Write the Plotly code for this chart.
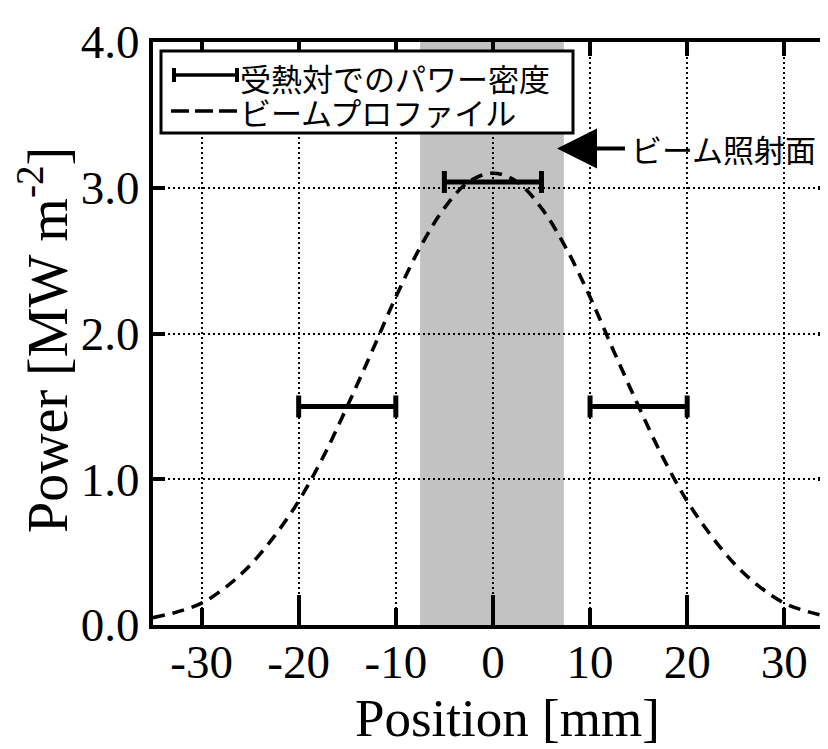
import plotly.graph_objects as go

# ---------------- data ----------------
profile_x = [-35, -32.5, -30, -27.5, -25, -22.5, -20, -17.5, -15, -12.5, -10, -7.5, -5, -2.5,
             0, 2.5, 5, 7.5, 10, 12.5, 15, 17.5, 20, 22.5, 25, 27.5, 30, 32.5, 35]
profile_y = [0.05, 0.09, 0.15, 0.26, 0.41, 0.61, 0.85, 1.15, 1.50, 1.87, 2.25, 2.59, 2.86, 3.04,
             3.10, 3.04, 2.86, 2.59, 2.25, 1.87, 1.50, 1.15, 0.85, 0.61, 0.41, 0.26, 0.15, 0.09, 0.05]

bar_center = [-15, 0, 15]
bar_power = [1.5, 3.04, 1.5]
bar_halfwidth = [5, 5, 5]

shade_x = [-7.5, 7.3]
arrow_point = [6.6, 3.27]

x_ticks = [-30, -20, -10, 0, 10, 20, 30]
x_major = [-20, 0, 20]
y_ticks = [0, 1, 2, 3, 4]
y_ticklabels = ["0.0", "1.0", "2.0", "3.0", "4.0"]

legend_labels = ["受熱対でのパワー密度", "ビームプロファイル"]
arrow_label = "ビーム照射面"
x_title = "Position [mm]"
y_title = "Power [MW m<sup>-2</sup>]"

x_range = [-35, 34.5]
y_range = [0, 4]

# ---------------- layout constants ----------------
OFF = 8                      # page body margin
W, H = 828 - OFF, 749 - OFF
L, R, T, B = 153 - OFF, 0, 42 - OFF, 749 - 625
PW, PH = W - L - R, H - T - B
SERIF = "Liberation Serif, Times New Roman, serif"
JP = "Noto Sans CJK JP"


def px(x):
    """page pixel x -> paper"""
    return (x - OFF - L) / PW


def py(y):
    """page pixel y -> paper"""
    return (H - B - (y - OFF)) / PH


fig = go.Figure()

fig.add_trace(go.Scatter(
    x=profile_x, y=profile_y, mode="lines", line_shape="spline",
    line=dict(color="black", width=3.6, dash="12px,8px"), showlegend=False,
))

fig.add_trace(go.Scatter(
    x=bar_center, y=bar_power, mode="markers",
    marker=dict(color="rgba(0,0,0,0)", size=1),
    error_x=dict(type="data", array=bar_halfwidth, symmetric=True,
                 color="black", thickness=5, width=11),
    showlegend=False,
))

# helper traces so the extra axes are drawn
fig.add_trace(go.Scatter(x=[], y=[], xaxis="x2", yaxis="y2", showlegend=False))
fig.add_trace(go.Scatter(x=[], y=[], xaxis="x3", yaxis="y", showlegend=False))

shapes = []
# beam irradiation area
shapes.append(dict(type="rect", xref="x", yref="y", x0=shade_x[0], x1=shade_x[1],
                   y0=y_range[0], y1=y_range[1], fillcolor="#c2c2c2",
                   line=dict(width=0), layer="below"))
# legend box
shapes.append(dict(type="rect", xref="paper", yref="paper",
                   x0=px(161), x1=px(573), y0=py(133), y1=py(51),
                   fillcolor="white", line=dict(color="black", width=3), layer="above"))
# legend symbol 1 : error bar
r1 = 75
shapes.append(dict(type="line", xref="paper", yref="paper", x0=px(174), x1=px(237),
                   y0=py(r1), y1=py(r1), line=dict(color="black", width=3.5), layer="above"))
for cx in (174, 237):
    shapes.append(dict(type="line", xref="paper", yref="paper", x0=px(cx), x1=px(cx),
                       y0=py(r1 - 7), y1=py(r1 + 7), line=dict(color="black", width=4),
                       layer="above"))
# legend symbol 2 : dashed line
r2 = 111
shapes.append(dict(type="line", xref="paper", yref="paper", x0=px(171), x1=px(238),
                   y0=py(r2), y1=py(r2),
                   line=dict(color="black", width=3.5, dash="18px,6px"), layer="above"))

annotations = [
    dict(xref="paper", yref="paper", x=px(238), y=py(r1 + 2), text=legend_labels[0],
         showarrow=False, xanchor="left", yanchor="middle",
         font=dict(family=JP, size=31, color="black")),
    dict(xref="paper", yref="paper", x=px(238), y=py(r2 + 1), text=legend_labels[1],
         showarrow=False, xanchor="left", yanchor="middle",
         font=dict(family=JP, size=31, color="black")),
    dict(xref="x", yref="y", x=arrow_point[0], y=arrow_point[1], text=arrow_label,
         showarrow=True, ax=166, ay=0, arrowhead=2, arrowsize=2.0, arrowwidth=4,
         arrowcolor="black", borderpad=5,
         font=dict(family=JP, size=31, color="black")),
    # y-axis title
    dict(xref="paper", yref="paper", x=px(43), y=py(340), text=y_title, textangle=-90,
         showarrow=False, xanchor="center", yanchor="middle",
         font=dict(family=SERIF, size=56, color="black")),
    # x-axis title
    dict(xref="paper", yref="paper", x=px(507), y=py(718), text=x_title,
         showarrow=False, xanchor="center", yanchor="middle",
         font=dict(family=SERIF, size=53, color="black")),
]

fig.update_layout(
    width=W, height=H,
    margin=dict(l=L, r=R, t=T, b=B, autoexpand=False),
    paper_bgcolor="white", plot_bgcolor="white",
    showlegend=False,
    shapes=shapes, annotations=annotations,
    xaxis=dict(
        range=x_range, tickvals=x_ticks, ticktext=[str(v) for v in x_ticks],
        ticks="inside", ticklen=17, tickwidth=4, tickcolor="black",
        showline=True, linewidth=4, linecolor="black", mirror=False,
        showgrid=True, gridcolor="black", gridwidth=1.5, griddash="2px,3px",
        zeroline=False, ticklabelstandoff=-7, automargin=False,
        tickfont=dict(family=SERIF, size=47, color="black"),
    ),
    xaxis2=dict(
        range=x_range, overlaying="x", side="top", anchor="y",
        tickvals=x_ticks, ticks="inside", ticklen=14, tickwidth=4, tickcolor="black",
        showticklabels=False, showline=True, linewidth=4, linecolor="black",
        showgrid=False, zeroline=False, automargin=False,
    ),
    xaxis3=dict(
        range=x_range, overlaying="x", side="bottom", anchor="y",
        tickvals=x_major, ticks="inside", ticklen=30, tickwidth=4, tickcolor="black",
        showticklabels=False, showline=False, showgrid=False, zeroline=False,
        automargin=False,
    ),
    yaxis=dict(
        range=y_range, tickvals=y_ticks, ticktext=y_ticklabels,
        ticks="inside", ticklen=12, tickwidth=4, tickcolor="black",
        showline=True, linewidth=4, linecolor="black", mirror=False,
        showgrid=True, gridcolor="black", gridwidth=1.5, griddash="2px,3px",
        zeroline=False, automargin=False,
        tickfont=dict(family=SERIF, size=47, color="black"),
    ),
    yaxis2=dict(
        range=y_range, overlaying="y", side="right", anchor="x",
        tickvals=[1, 2, 3], ticks="inside", ticklen=10, tickwidth=4, tickcolor="black",
        showticklabels=False, showline=False, showgrid=False, zeroline=False,
        automargin=False,
    ),
)

fig.write_html("out.html")
